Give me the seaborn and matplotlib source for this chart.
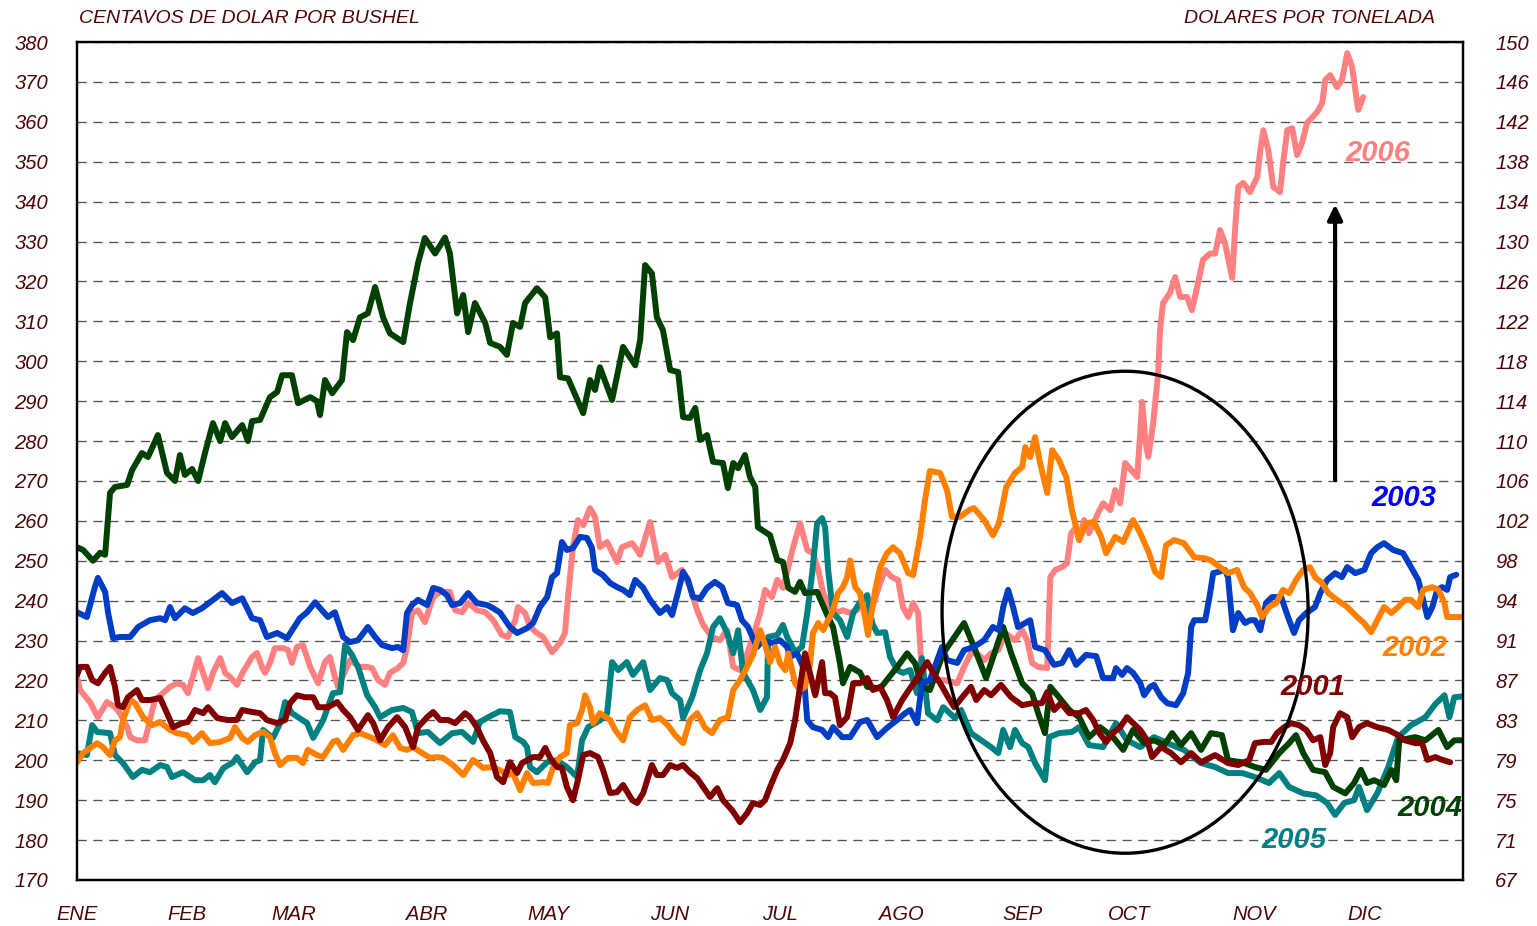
""" Corn prices by year: cents per bushel and dollars per tonne. """
import pandas as pd
import seaborn as sns
import matplotlib
matplotlib.use('Agg')
import matplotlib.pyplot as plt
from matplotlib.patches import Ellipse

# x axis is day of the year
months = ['ENE', 'FEB', 'MAR', 'ABR', 'MAY', 'JUN',
          'JUL', 'AGO', 'SEP', 'OCT', 'NOV', 'DIC']
month_days = [0, 29, 57, 92, 124, 156, 185, 217, 249, 277, 310, 339]

left_ticks = list(range(170, 381, 10))
right_labels = [67, 71, 75, 79, 83, 87, 91, 94, 98, 102, 106,
                110, 114, 118, 122, 126, 130, 134, 138, 142, 146, 150]

day_2001 = [0, 0.8, 2.6, 4.0, 5.5, 7.4, 8.7, 10.0, 10.8, 12.1,
            13.4, 15.8, 17.1, 19.2, 21.9, 23.7, 25.3, 27.7, 29.2, 31.1,
            33.2, 34.5, 36.9, 39.5, 42.1, 43.5, 46.1, 48.2, 50.0, 52.7,
            54.8, 56.1, 57.9, 60.0, 62.2, 63.5, 66.1, 68.5, 70.1, 71.9,
            74.0, 76.6, 78.0, 79.8, 81.9, 84.3, 86.4, 88.5, 89.8, 92.2,
            93.8, 95.6, 97.7, 99.6, 102.2, 103.5, 105.3, 106.9, 108.8, 110.6,
            112.2, 114.0, 115.9, 117.2, 120.1, 121.9, 123.3, 124.6, 126.4, 127.7,
            129.0, 130.6, 131.9, 133.3, 135.1, 137.2, 138.5, 140.4, 142.2, 143.8,
            146.2, 147.5, 149.1, 151.4, 152.7, 154.3, 156.2, 158.0, 159.6, 161.4,
            163.3, 164.9, 166.7, 168.6, 170.1, 172.5, 174.6, 176.5, 178.0, 179.9,
            181.2, 182.5, 184.4, 185.9, 187.8, 189.1, 190.4, 191.7, 193.0, 194.4,
            196.2, 197.0, 198.3, 199.6, 200.9, 202.8, 204.4, 206.2, 208.1, 209.6,
            211.5, 213.3, 214.9, 217.3, 219.4, 221.5, 223.9, 225.4, 227.3, 229.4,
            231.0, 233.1, 235.4, 236.8, 238.9, 240.7, 243.3, 246.0, 248.9, 251.5,
            254.1, 255.5, 257.3, 259.1, 261.3, 263.9, 265.7, 267.6, 269.2, 271.0,
            272.8, 274.7, 276.5, 278.1, 280.0, 281.8, 283.1, 285.5, 288.1, 290.7,
            293.4, 296.0, 299.7, 303.1, 305.8, 308.7, 310.2, 312.6, 314.5, 316.0,
            317.9, 319.7, 321.8, 323.7, 325.5, 327.4, 328.7, 330.0, 330.8, 332.6,
            334.5, 335.8, 337.6, 339.7, 342.4, 345.3, 347.9, 349.7, 352.4, 354.2,
            355.6, 357.7, 359.5, 361.6]
val_2001 = [221.4, 223.4, 223.4, 220.1, 219.3, 221.9, 223.4, 218.4, 213.8, 213.3,
            215.8, 217.6, 215.1, 215.1, 215.6, 211.8, 208.3, 209.3, 209.6, 212.6,
            211.8, 213.3, 210.6, 210.1, 210.1, 212.6, 212.1, 211.8, 210.1, 209.3,
            210.1, 214.3, 216.3, 215.8, 215.8, 213.3, 213.3, 214.6, 212.6, 210.8,
            207.6, 211.3, 209.3, 205.0, 208.3, 210.8, 208.3, 203.3, 208.3, 210.8,
            212.1, 210.1, 210.1, 209.3, 211.8, 210.8, 208.3, 205.0, 201.8, 195.8,
            194.5, 199.5, 196.8, 199.3, 200.8, 200.8, 203.1, 200.6, 198.3, 198.1,
            193.3, 190.0, 195.0, 201.3, 201.8, 200.8, 197.6, 191.8, 192.0, 193.8,
            190.0, 189.3, 191.8, 198.8, 196.3, 196.3, 198.8, 198.1, 198.8, 197.0,
            195.5, 193.3, 190.8, 193.0, 190.0, 187.5, 184.5, 186.8, 189.3, 188.8,
            190.0, 193.3, 197.6, 200.1, 204.3, 210.1, 218.4, 226.8, 221.9, 216.3,
            224.6, 216.8, 216.8, 215.8, 208.8, 210.8, 219.3, 219.3, 220.6, 217.6,
            218.4, 215.1, 210.8, 215.1, 218.1, 220.9, 224.6, 222.1, 219.3, 215.8,
            213.3, 215.8, 218.4, 215.1, 217.6, 216.3, 218.9, 215.8, 213.8, 214.3,
            214.3, 217.1, 212.6, 214.3, 211.8, 211.8, 212.6, 210.1, 206.8, 204.6,
            206.8, 208.3, 210.8, 209.3, 207.6, 205.0, 200.8, 203.3, 201.8, 199.5,
            201.8, 199.5, 201.3, 199.3, 198.8, 200.1, 204.3, 204.6, 204.6, 206.8,
            208.3, 209.3, 208.8, 207.6, 205.0, 205.8, 198.8, 201.8, 208.3, 211.8,
            210.8, 205.8, 208.3, 209.3, 208.3, 207.6, 206.3, 205.0, 204.3, 204.3,
            200.1, 200.8, 200.1, 199.5]

day_2002 = [0, 1.6, 5.3, 6.8, 8.7, 10.0, 11.3, 12.1, 14.0, 15.3,
            17.4, 19.8, 21.9, 24.5, 26.3, 29.0, 30.5, 32.9, 35.0, 37.7,
            40.3, 41.6, 43.5, 45.0, 46.9, 49.0, 50.8, 52.1, 53.5, 55.6,
            57.9, 59.5, 60.8, 63.2, 64.8, 67.4, 68.5, 70.1, 72.7, 74.5,
            77.2, 79.0, 81.1, 83.2, 85.1, 86.9, 88.5, 90.9, 93.0, 94.8,
            96.4, 99.0, 101.7, 104.3, 106.9, 109.3, 111.4, 113.5, 114.8, 116.7,
            118.5, 120.1, 122.7, 124.0, 125.4, 127.2, 129.0, 129.8, 131.7, 133.0,
            133.8, 135.1, 135.9, 137.7, 140.4, 141.7, 143.8, 145.6, 147.5, 149.6,
            151.4, 153.5, 155.6, 157.5, 159.6, 161.4, 163.3, 165.4, 167.2, 169.3,
            171.4, 172.8, 174.6, 176.7, 178.0, 179.9, 181.2, 182.5, 183.8, 185.1,
            186.5, 187.3, 189.1, 190.4, 191.7, 193.0, 193.8, 195.2, 196.5, 197.8,
            198.8, 200.4, 201.7, 202.8, 203.6, 204.9, 206.2, 207.5, 208.3, 210.2,
            211.5, 213.3, 214.9, 216.7, 218.9, 220.2, 222.0, 223.3, 224.6, 227.3,
            229.1, 230.4, 232.5, 234.9, 236.2, 238.9, 241.2, 242.8, 244.7, 247.0,
            248.9, 249.7, 251.0, 252.3, 253.6, 255.5, 256.8, 258.6, 260.5, 262.0,
            263.9, 265.7, 267.8, 269.7, 271.0, 273.4, 275.5, 278.1, 280.0, 282.3,
            283.9, 285.5, 286.8, 288.9, 291.5, 294.2, 297.1, 298.6, 301.0, 303.1,
            305.5, 307.3, 308.9, 310.8, 312.1, 313.9, 315.8, 317.6, 319.2, 321.0,
            322.9, 324.7, 326.0, 327.9, 329.5, 331.8, 334.5, 337.1, 338.9, 340.8,
            342.4, 344.2, 346.1, 347.9, 349.7, 351.3, 353.2, 354.5, 356.9, 358.5,
            360.1, 360.8, 362.7, 364.8]
val_2002 = [199.5, 201.8, 204.3, 203.3, 201.3, 205.0, 205.8, 210.0, 215.1, 214.3,
            210.8, 208.8, 209.6, 207.6, 206.8, 206.3, 204.6, 206.8, 204.3, 204.6,
            205.6, 208.3, 205.6, 204.6, 206.3, 207.1, 205.8, 201.8, 198.8, 200.6,
            200.6, 199.3, 202.6, 201.3, 200.8, 204.6, 205.0, 202.6, 206.3, 206.8,
            205.8, 205.0, 203.8, 206.3, 203.1, 202.6, 203.3, 201.8, 200.6, 200.8,
            200.6, 198.8, 196.3, 200.1, 198.1, 198.3, 197.5, 196.3, 196.8, 192.5,
            196.8, 194.3, 194.5, 194.3, 198.3, 200.8, 201.8, 208.8, 209.3, 212.6,
            216.3, 213.3, 209.3, 211.8, 210.1, 207.6, 205.0, 210.8, 212.6, 213.8,
            210.1, 210.6, 208.8, 206.3, 204.3, 210.1, 211.8, 208.1, 206.8, 210.1,
            210.8, 217.6, 220.1, 223.9, 226.4, 232.6, 228.9, 224.6, 228.4, 224.4,
            222.6, 226.8, 219.3, 217.6, 218.4, 223.9, 231.9, 234.4, 232.6, 235.1,
            236.9, 241.9, 243.4, 245.9, 250.1, 243.4, 241.9, 235.9, 231.4, 242.7,
            248.4, 251.9, 253.4, 251.9, 246.9, 246.4, 256.0, 265.2, 272.5, 272.0,
            267.7, 261.0, 261.0, 262.7, 263.2, 260.2, 256.4, 259.4, 268.5, 272.0,
            273.5, 278.5, 276.0, 281.0, 274.5, 267.0, 277.7, 275.2, 271.0, 262.7,
            255.2, 259.4, 259.7, 256.0, 251.9, 256.0, 254.7, 260.2, 256.9, 251.9,
            247.2, 245.9, 253.9, 255.2, 254.4, 250.9, 250.6, 250.1, 248.4, 246.9,
            247.7, 243.4, 241.9, 238.9, 235.9, 238.4, 239.4, 242.7, 241.9, 245.2,
            247.7, 248.4, 245.9, 244.4, 241.9, 240.2, 238.4, 235.9, 234.4, 232.1,
            235.1, 238.4, 236.9, 238.4, 240.2, 240.2, 238.4, 242.7, 243.4, 242.7,
            239.4, 235.9, 235.9, 235.9]

day_2003 = [0, 2.6, 4.7, 5.5, 7.4, 8.2, 9.5, 11.3, 14.0, 16.1,
            19.2, 21.9, 23.2, 24.5, 25.8, 28.4, 30.5, 32.9, 35.0, 38.2,
            40.8, 43.5, 46.1, 48.2, 50.0, 52.7, 55.3, 58.7, 60.6, 62.7,
            64.5, 66.1, 67.9, 70.1, 71.9, 74.0, 76.6, 78.5, 80.3, 83.0,
            84.5, 85.9, 86.9, 88.2, 89.8, 92.2, 93.8, 95.6, 97.4, 98.8,
            100.9, 103.0, 105.3, 108.0, 109.6, 111.4, 114.0, 115.9, 118.5, 120.1,
            121.9, 123.8, 125.1, 126.4, 127.7, 129.0, 130.6, 132.5, 134.3, 135.6,
            136.4, 138.5, 140.4, 142.2, 143.8, 145.6, 147.0, 149.1, 150.9, 153.5,
            155.4, 156.7, 158.3, 159.6, 160.9, 162.2, 164.1, 165.9, 168.0, 169.9,
            171.4, 173.8, 175.1, 176.7, 178.0, 179.1, 180.7, 183.0, 185.1, 187.0,
            187.8, 189.6, 191.2, 192.3, 193.8, 196.2, 197.8, 199.1, 201.5, 203.6,
            206.2, 208.1, 210.7, 213.3, 216.0, 218.1, 219.4, 221.2, 222.5, 224.6,
            227.8, 229.1, 231.8, 233.6, 236.2, 238.9, 241.2, 242.8, 243.9, 245.2,
            246.5, 247.8, 249.7, 251.0, 252.3, 254.9, 257.3, 259.4, 261.3, 263.1,
            265.7, 268.4, 270.2, 272.8, 273.6, 275.2, 276.5, 278.1, 280.0, 281.0,
            282.6, 283.6, 285.5, 287.1, 289.4, 291.3, 292.6, 293.4, 294.2, 297.1,
            298.4, 299.2, 300.5, 302.3, 303.1, 304.4, 305.8, 307.6, 308.9, 310.2,
            311.6, 313.1, 314.7, 317.1, 318.9, 320.5, 321.8, 323.7, 326.0, 327.4,
            329.2, 331.3, 333.1, 334.5, 336.6, 339.0, 340.8, 342.4, 344.2, 346.6,
            349.2, 351.3, 353.2, 354.5, 355.6, 356.9, 358.2, 359.5, 360.8, 361.6,
            363.2]
val_2003 = [237.1, 235.9, 243.4, 245.7, 242.2, 236.9, 230.6, 230.9, 230.9, 233.4,
            235.1, 235.6, 235.1, 238.4, 235.6, 238.1, 236.9, 238.1, 239.6, 241.9,
            239.4, 240.6, 235.6, 235.1, 230.9, 231.9, 230.6, 235.6, 237.1, 239.6,
            237.6, 235.9, 237.1, 230.9, 229.6, 230.1, 233.4, 230.9, 228.9, 228.1,
            228.4, 227.6, 236.9, 238.9, 240.2, 238.9, 243.2, 242.7, 241.4, 238.9,
            239.4, 241.9, 239.4, 238.9, 238.1, 237.0, 233.4, 231.9, 233.1, 234.4,
            238.4, 240.9, 245.9, 246.9, 254.7, 252.7, 253.2, 256.0, 255.7, 253.2,
            247.7, 246.4, 244.4, 243.4, 242.7, 241.4, 245.2, 243.2, 240.2, 236.9,
            238.4, 236.4, 242.2, 247.2, 245.2, 240.9, 240.6, 243.2, 244.7, 243.4,
            239.4, 238.9, 235.1, 233.4, 230.6, 228.4, 230.1, 229.4, 230.1, 228.4,
            225.9, 226.8, 223.4, 210.0, 208.3, 207.6, 205.8, 208.3, 205.8, 205.8,
            209.6, 210.1, 205.8, 208.1, 210.1, 211.8, 212.6, 209.3, 219.3, 220.1,
            228.4, 225.1, 224.4, 227.6, 228.4, 230.1, 233.4, 232.6, 238.4, 242.7,
            238.4, 233.4, 234.4, 235.1, 228.4, 227.6, 223.9, 224.4, 227.6, 223.9,
            226.4, 226.1, 220.6, 220.6, 223.1, 221.4, 223.1, 221.9, 219.3, 216.3,
            218.4, 218.9, 215.8, 214.3, 213.8, 216.8, 221.9, 233.4, 235.1, 235.1,
            241.9, 246.9, 247.2, 247.7, 245.9, 232.6, 236.9, 234.4, 235.1, 235.1,
            232.6, 239.4, 240.9, 240.9, 235.9, 231.9, 235.1, 236.9, 238.4, 241.9,
            245.2, 246.9, 245.9, 248.4, 246.9, 247.7, 251.9, 253.4, 254.4, 252.7,
            251.9, 248.4, 245.2, 240.2, 235.9, 238.4, 242.7, 243.4, 242.7, 245.9,
            246.5]

day_2004 = [0, 1.6, 4.2, 6.1, 7.4, 8.7, 10.0, 13.2, 14.5, 17.1,
            18.7, 21.3, 23.7, 25.8, 27.1, 28.4, 30.3, 31.9, 33.7, 35.8,
            37.7, 39.0, 40.8, 43.5, 45.0, 46.1, 48.2, 50.8, 52.7, 54.0,
            56.6, 58.2, 61.4, 63.2, 64.0, 65.3, 67.2, 69.8, 71.1, 72.7,
            74.5, 76.6, 78.5, 80.6, 82.4, 85.9, 87.7, 89.8, 91.6, 94.3,
            96.9, 98.2, 100.1, 101.7, 103.0, 104.8, 107.5, 108.8, 111.4, 113.2,
            114.8, 116.7, 118.0, 121.1, 123.3, 124.6, 126.4, 127.2, 129.3, 133.3,
            135.1, 136.4, 137.7, 140.9, 143.8, 147.0, 148.3, 149.6, 151.4, 152.7,
            154.3, 156.2, 158.3, 159.6, 161.4, 162.8, 164.1, 165.9, 167.5, 170.1,
            171.4, 172.8, 174.1, 175.9, 177.2, 178.6, 179.3, 182.5, 184.4, 185.9,
            187.3, 189.1, 190.4, 191.7, 194.9, 196.2, 197.8, 199.1, 200.9, 201.7,
            203.6, 206.2, 208.1, 211.5, 216.0, 218.6, 220.7, 222.5, 224.6, 228.1,
            233.6, 236.2, 239.4, 243.9, 246.0, 248.9, 251.5, 253.1, 254.9, 256.3,
            258.6, 261.3, 263.9, 266.5, 269.4, 272.8, 275.5, 278.1, 281.0, 283.6,
            286.3, 288.4, 290.7, 293.4, 296.0, 298.6, 301.5, 303.1, 306.8, 310.2,
            313.1, 316.6, 319.2, 321.0, 322.9, 325.5, 328.7, 330.8, 334.0, 336.3,
            338.1, 339.7, 341.6, 344.2, 346.1, 347.4, 348.2, 352.4, 355.1, 358.5,
            360.8, 362.7, 364.7]
val_2004 = [253.4, 252.7, 250.0, 252.0, 251.5, 267.0, 268.5, 269.0, 272.7, 277.0,
            276.0, 281.5, 272.0, 270.0, 276.5, 271.5, 273.0, 270.0, 277.0, 284.5,
            280.0, 284.5, 281.0, 284.0, 280.0, 285.0, 285.3, 291.0, 292.3, 296.5,
            296.5, 289.5, 291.0, 290.0, 286.5, 295.3, 292.0, 295.3, 307.3, 305.3,
            311.0, 312.0, 318.6, 311.0, 307.0, 304.8, 314.6, 324.6, 330.9, 327.0,
            331.0, 327.0, 312.0, 316.6, 307.3, 314.6, 309.6, 304.6, 303.6, 301.6,
            309.6, 308.6, 314.6, 318.3, 316.0, 306.0, 307.0, 296.0, 295.7, 287.0,
            295.3, 292.8, 298.5, 290.3, 303.6, 299.0, 305.3, 324.1, 322.0, 311.0,
            307.8, 297.8, 297.3, 286.0, 285.8, 288.3, 280.3, 281.5, 274.8, 274.5,
            268.2, 274.5, 273.2, 276.5, 271.0, 268.5, 258.4, 256.4, 250.2, 249.7,
            243.2, 242.2, 244.7, 241.9, 242.2, 239.4, 235.9, 233.4, 224.4, 219.3,
            223.4, 222.0, 218.4, 218.0, 223.4, 226.8, 224.3, 218.4, 217.6, 226.8,
            234.4, 228.4, 220.6, 233.4, 226.8, 219.3, 216.8, 211.8, 206.8, 218.4,
            215.8, 212.6, 210.8, 205.8, 208.3, 205.8, 202.6, 207.6, 204.3, 205.0,
            203.8, 206.8, 203.8, 206.8, 202.6, 206.8, 206.3, 200.0, 199.5, 198.3,
            197.6, 201.8, 204.3, 206.3, 201.8, 197.6, 197.0, 193.3, 191.7, 194.3,
            197.6, 194.3, 195.0, 193.8, 197.6, 195.0, 205.0, 205.8, 205.0, 207.6,
            203.3, 205.0, 205.0]

day_2005 = [0, 2.6, 4.0, 5.3, 8.7, 10.0, 12.1, 14.7, 17.1, 19.2,
            21.9, 23.7, 25.0, 27.9, 31.1, 33.2, 35.0, 36.3, 38.5, 41.1,
            42.1, 44.8, 46.9, 48.2, 49.0, 51.6, 53.5, 54.8, 56.6, 60.6,
            62.2, 64.8, 67.4, 69.3, 70.6, 72.4, 74.0, 76.4, 78.5, 79.8,
            83.0, 85.9, 88.2, 89.8, 92.4, 95.6, 98.8, 101.4, 104.3, 106.1,
            109.3, 111.4, 114.0, 115.4, 117.5, 118.5, 119.3, 121.1, 123.8, 126.4,
            129.0, 131.7, 133.0, 134.6, 137.7, 139.6, 140.9, 142.5, 144.8, 146.4,
            149.1, 150.9, 153.5, 155.4, 156.7, 158.8, 159.6, 162.0, 164.1, 165.9,
            167.5, 169.3, 171.2, 172.8, 174.1, 175.4, 178.0, 179.9, 181.7, 182.0,
            184.4, 185.9, 187.0, 189.1, 190.9, 192.3, 193.6, 194.9, 196.2, 197.0,
            197.8, 199.1, 200.9, 202.8, 204.4, 206.2, 208.1, 209.4, 210.7, 212.8,
            214.1, 216.0, 217.5, 219.4, 221.2, 222.5, 224.1, 226.5, 228.1, 231.2,
            232.8, 235.4, 238.1, 240.7, 242.6, 243.9, 245.7, 247.0, 248.9, 250.5,
            252.3, 254.9, 256.0, 258.6, 262.0, 263.9, 266.5, 270.2, 273.6, 276.5,
            280.0, 283.6, 287.1, 291.5, 296.0, 299.7, 303.1, 306.8, 310.2, 313.9,
            316.6, 319.2, 322.9, 326.3, 329.2, 331.3, 333.7, 336.3, 337.6, 339.7,
            342.4, 345.3, 347.9, 351.3, 355.1, 357.7, 360.1, 361.4, 362.7, 364.8]
val_2005 = [201.8, 201.3, 208.8, 207.1, 206.8, 201.3, 199.3, 195.8, 197.6, 197.0,
            198.8, 198.3, 195.8, 197.0, 195.0, 195.0, 196.3, 194.5, 198.0, 199.5,
            200.8, 197.0, 199.5, 200.0, 207.6, 205.6, 209.3, 214.6, 211.8, 209.3,
            205.6, 210.0, 216.8, 217.1, 228.9, 226.4, 223.4, 216.3, 213.3, 210.8,
            212.6, 213.1, 212.1, 206.8, 207.1, 204.3, 206.8, 207.1, 204.6, 209.6,
            211.3, 212.3, 212.1, 205.8, 204.6, 203.3, 198.3, 197.0, 199.5, 200.0,
            198.3, 195.8, 205.0, 208.3, 210.0, 211.8, 224.6, 222.6, 224.6, 221.4,
            224.6, 217.6, 220.6, 220.1, 216.8, 215.1, 210.6, 215.8, 222.6, 226.8,
            233.4, 235.6, 231.9, 226.8, 232.6, 222.0, 217.6, 212.6, 215.8, 230.9,
            231.4, 233.9, 230.9, 227.1, 228.4, 236.9, 246.9, 259.4, 260.7, 258.4,
            247.7, 236.9, 235.1, 230.9, 236.9, 239.6, 241.4, 234.4, 231.9, 232.1,
            225.9, 222.6, 221.9, 222.6, 216.8, 225.6, 211.8, 210.0, 213.3, 210.6,
            212.6, 206.8, 205.0, 203.3, 201.8, 207.6, 203.3, 207.6, 204.3, 203.3,
            199.3, 195.0, 205.8, 206.8, 207.1, 208.3, 203.8, 203.3, 209.3, 205.0,
            203.3, 205.8, 204.3, 202.6, 199.3, 198.3, 196.8, 196.8, 195.8, 194.3,
            196.8, 193.3, 191.7, 191.2, 189.3, 186.3, 189.3, 190.0, 193.3, 187.5,
            191.7, 198.3, 205.8, 208.8, 210.8, 214.1, 216.3, 210.8, 215.8, 216.0]

day_2006 = [0, 0.8, 3.4, 5.5, 7.9, 10.0, 11.3, 13.2, 14.0, 15.8,
            17.9, 19.2, 20.5, 22.6, 24.5, 26.3, 27.9, 29.2, 30.5, 31.9,
            33.2, 34.5, 35.8, 37.7, 39.0, 40.3, 42.1, 43.7, 46.1, 47.4,
            48.7, 49.5, 50.8, 52.1, 54.3, 55.6, 56.6, 57.9, 59.5, 61.4,
            63.5, 65.3, 66.6, 67.9, 68.7, 71.9, 74.5, 76.4, 77.7, 79.3,
            81.1, 82.4, 84.5, 85.9, 86.9, 88.2, 89.8, 91.6, 93.8, 95.6,
            98.2, 99.6, 101.4, 103.0, 105.3, 107.5, 109.6, 111.9, 113.5, 115.4,
            116.1, 118.0, 119.3, 121.1, 122.7, 125.1, 127.2, 128.5, 129.3, 130.6,
            131.9, 133.3, 135.1, 136.4, 137.7, 139.6, 142.2, 143.5, 146.2, 148.3,
            150.9, 153.0, 154.9, 156.7, 159.3, 161.4, 163.3, 164.9, 167.2, 169.3,
            171.2, 172.8, 174.6, 175.9, 178.0, 179.9, 181.2, 183.0, 184.4, 185.9,
            188.6, 190.4, 192.3, 193.8, 195.2, 196.5, 198.3, 200.2, 201.7, 203.6,
            205.4, 206.7, 208.1, 209.6, 211.5, 212.8, 214.6, 216.2, 217.5, 218.9,
            220.2, 221.5, 222.5, 223.9, 225.4, 228.3, 231.8, 233.6, 235.4, 237.0,
            238.9, 240.7, 242.6, 244.4, 247.0, 248.9, 250.2, 251.5, 253.1, 255.5,
            256.3, 257.6, 259.4, 260.7, 261.8, 263.1, 263.9, 265.2, 266.5, 268.9,
            270.2, 272.1, 273.4, 274.7, 276.0, 279.2, 280.5, 281.3, 282.1, 283.4,
            284.7, 285.2, 286.0, 287.8, 289.2, 290.5, 292.3, 293.6, 295.2, 296.5,
            298.4, 299.7, 301.0, 302.3, 304.2, 305.0, 305.8, 307.1, 308.9, 310.8,
            311.6, 312.4, 313.7, 315.0, 316.8, 317.6, 318.7, 320.0, 321.3, 322.6,
            323.9, 326.6, 327.9, 328.7, 330.0, 331.8, 333.1, 334.5, 335.8, 337.1,
            337.4, 338.7]
val_2006 = [220.9, 217.6, 214.6, 210.8, 214.6, 213.3, 211.8, 208.3, 205.8, 205.0,
            205.0, 210.0, 215.1, 216.8, 218.4, 219.3, 218.9, 216.8, 220.9, 225.6,
            221.9, 218.1, 221.9, 225.6, 221.9, 220.9, 218.9, 222.1, 225.9, 226.9,
            223.4, 221.9, 224.4, 228.1, 228.1, 227.6, 224.4, 228.4, 228.9, 223.4,
            219.3, 224.6, 225.9, 220.9, 218.4, 225.1, 223.4, 223.4, 223.1, 220.1,
            218.9, 221.9, 223.1, 224.4, 228.4, 236.9, 237.6, 234.6, 240.9, 242.2,
            242.2, 237.6, 237.1, 239.4, 237.6, 237.1, 235.1, 231.4, 230.9, 235.1,
            238.4, 236.9, 233.4, 231.9, 230.9, 227.1, 229.4, 231.9, 240.9, 253.4,
            260.2, 258.9, 263.2, 261.0, 253.4, 254.7, 249.7, 253.4, 254.4, 251.5,
            259.7, 249.7, 251.5, 245.9, 247.7, 243.4, 237.6, 233.9, 230.9, 230.1,
            232.6, 223.4, 222.6, 225.1, 230.9, 236.9, 242.7, 240.9, 245.2, 243.2,
            253.4, 259.4, 252.7, 251.9, 247.7, 241.9, 238.4, 237.1, 237.6, 236.9,
            237.6, 239.4, 236.9, 238.9, 244.4, 247.7, 245.9, 245.2, 238.4, 235.9,
            239.4, 236.9, 221.9, 218.4, 220.1, 220.1, 219.3, 223.4, 226.8, 226.8,
            225.1, 226.8, 227.6, 231.9, 230.1, 232.6, 230.1, 224.4, 223.4, 223.1,
            245.9, 247.7, 248.4, 249.4, 256.9, 258.4, 255.2, 260.2, 256.9, 262.0,
            264.4, 262.7, 267.7, 264.4, 274.5, 271.0, 289.8, 280.3, 276.0, 284.5,
            297.0, 307.8, 314.6, 317.1, 321.1, 316.1, 316.1, 312.8, 319.6, 325.4,
            327.0, 327.0, 332.9, 329.6, 320.9, 333.6, 343.7, 344.7, 342.4, 346.2,
            352.9, 357.9, 352.9, 343.7, 342.4, 349.6, 357.9, 358.4, 351.7, 354.7,
            359.7, 362.5, 364.7, 370.5, 371.7, 368.7, 370.5, 377.2, 373.7, 364.7,
            363.0, 366.2]

years = ['2006', '2005', '2004', '2003', '2002', '2001']
palette = {'2001': '#800000', '2002': '#ff8000', '2003': '#003cc4',
           '2004': '#004000', '2005': '#008080', '2006': '#ff8080'}
label_colors = {'2001': '#800000', '2002': '#ff8000', '2003': '#0000ff',
                '2004': '#004000', '2005': '#008080', '2006': '#ff8080'}

frames = []
for year, days, vals in [('2001', day_2001, val_2001), ('2002', day_2002, val_2002),
                         ('2003', day_2003, val_2003), ('2004', day_2004, val_2004),
                         ('2005', day_2005, val_2005), ('2006', day_2006, val_2006)]:
    frames.append(pd.DataFrame({'day': days, 'price': vals, 'year': year}))
df = pd.concat(frames, ignore_index=True)

sns.set_style('white')
plt.rcParams['font.family'] = ['Liberation Sans', 'DejaVu Sans']
plt.rcParams['lines.solid_joinstyle'] = 'round'
plt.rcParams['lines.solid_capstyle'] = 'round'
text_color = '#4d0505'

fig, ax = plt.subplots(figsize=(15.37, 9.26), dpi=100)
fig.subplots_adjust(left=0.0501, right=0.9519, top=0.9546, bottom=0.0497)

sns.lineplot(data=df, x='day', y='price', hue='year', hue_order=years,
             palette=palette, estimator=None, sort=False, linewidth=4.3,
             legend=False, ax=ax)

ax.set_xlim(0, 365)
ax.set_ylim(170, 380)
ax.set_xlabel('')
ax.set_ylabel('')
ax.set_yticks(left_ticks)
ax.set_yticklabels([str(v) for v in left_ticks], fontstyle='italic',
                   fontsize=14.5, color=text_color)
ax.set_xticks(month_days)
ax.set_xticklabels(months, fontstyle='italic', fontsize=14.5, color=text_color)
ax.tick_params(axis='y', length=0, pad=21)
ax.tick_params(axis='x', length=0, pad=18)
ax.yaxis.grid(True, linestyle=(0, (7, 5)), color='#555555', linewidth=0.95)
ax.xaxis.grid(False)
ax.set_axisbelow(True)

ax2 = ax.twinx()
ax2.set_ylim(170, 380)
ax2.set_yticks(left_ticks)
ax2.set_yticklabels([str(v) for v in right_labels], fontstyle='italic',
                    fontsize=14.5, color=text_color)
ax2.tick_params(axis='y', length=0, pad=23)

for a in (ax, ax2):
    for sp in a.spines.values():
        sp.set_visible(True)
        sp.set_color('black')
        sp.set_linewidth(1.6)

# circled zone and arrow
ax.add_patch(Ellipse((276.0, 237.1), 96.4, 120.8, fill=False,
                     edgecolor='black', linewidth=2.4, zorder=6))
ax.annotate('', xy=(331.3, 340.0), xytext=(331.3, 269.5),
            arrowprops=dict(arrowstyle='-|>,head_length=0.45,head_width=0.22',
                            color='black', lw=3, mutation_scale=20),
            zorder=6)

# year labels
year_pos = {'2006': (342.6, 352.2), '2003': (349.5, 265.7),
            '2002': (352.4, 228.1), '2001': (325.5, 218.4),
            '2004': (356.3, 188.0), '2005': (320.5, 180.0)}
for year, (xd, yv) in year_pos.items():
    ax.text(xd, yv, year, color=label_colors[year], fontsize=21,
            fontweight='bold', fontstyle='italic', ha='center', va='center',
            zorder=7)

fig.text(0.0514, 0.9795, 'CENTAVOS DE DOLAR POR BUSHEL', fontsize=14,
         fontstyle='italic', color=text_color, ha='left', va='center')
fig.text(0.9336, 0.9795, 'DOLARES POR TONELADA', fontsize=14,
         fontstyle='italic', color=text_color, ha='right', va='center')

fig.savefig('out.png', dpi=100, facecolor='white')
